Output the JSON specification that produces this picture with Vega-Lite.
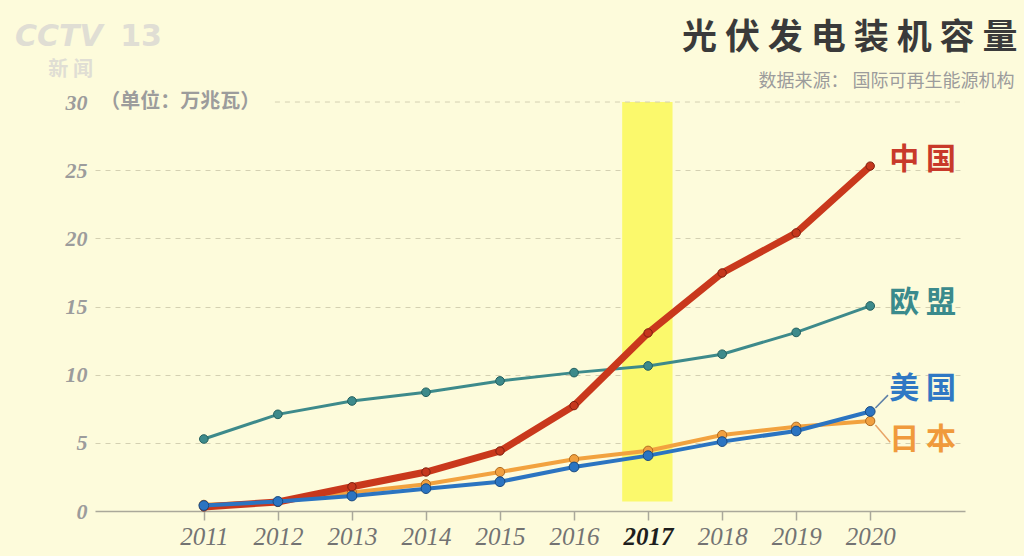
{
  "$schema": "https://vega.github.io/schema/vega-lite/v6.json",
  "width": 870,
  "height": 409,
  "autosize": "none",
  "padding": {"left": 95, "top": 102, "right": 59, "bottom": 45},
  "background": "#fdfbdb",
  "config": {"view": {"stroke": null}},
  "datasets": {
    "cap": [
      {"year": 2011, "series": "中国", "value": 0.3},
      {"year": 2012, "series": "中国", "value": 0.66},
      {"year": 2013, "series": "中国", "value": 1.78},
      {"year": 2014, "series": "中国", "value": 2.86},
      {"year": 2015, "series": "中国", "value": 4.4},
      {"year": 2016, "series": "中国", "value": 7.73},
      {"year": 2017, "series": "中国", "value": 13.06},
      {"year": 2018, "series": "中国", "value": 17.46},
      {"year": 2019, "series": "中国", "value": 20.4},
      {"year": 2020, "series": "中国", "value": 25.3},
      {"year": 2011, "series": "欧盟", "value": 5.28},
      {"year": 2012, "series": "欧盟", "value": 7.09},
      {"year": 2013, "series": "欧盟", "value": 8.07},
      {"year": 2014, "series": "欧盟", "value": 8.71},
      {"year": 2015, "series": "欧盟", "value": 9.54},
      {"year": 2016, "series": "欧盟", "value": 10.15},
      {"year": 2017, "series": "欧盟", "value": 10.64},
      {"year": 2018, "series": "欧盟", "value": 11.5},
      {"year": 2019, "series": "欧盟", "value": 13.1},
      {"year": 2020, "series": "欧盟", "value": 15.04},
      {"year": 2011, "series": "日本", "value": 0.45},
      {"year": 2012, "series": "日本", "value": 0.66},
      {"year": 2013, "series": "日本", "value": 1.35},
      {"year": 2014, "series": "日本", "value": 1.96},
      {"year": 2015, "series": "日本", "value": 2.86},
      {"year": 2016, "series": "日本", "value": 3.8},
      {"year": 2017, "series": "日本", "value": 4.42},
      {"year": 2018, "series": "日本", "value": 5.57},
      {"year": 2019, "series": "日本", "value": 6.18},
      {"year": 2020, "series": "日本", "value": 6.6},
      {"year": 2011, "series": "美国", "value": 0.4},
      {"year": 2012, "series": "美国", "value": 0.7},
      {"year": 2013, "series": "美国", "value": 1.1},
      {"year": 2014, "series": "美国", "value": 1.64},
      {"year": 2015, "series": "美国", "value": 2.15},
      {"year": 2016, "series": "美国", "value": 3.23},
      {"year": 2017, "series": "美国", "value": 4.06},
      {"year": 2018, "series": "美国", "value": 5.09},
      {"year": 2019, "series": "美国", "value": 5.87},
      {"year": 2020, "series": "美国", "value": 7.3}
    ]
  },
  "layer": [
    {
      "data": {"values": [{}]},
      "mark": {"type": "rect", "color": "#fbf96c"},
      "encoding": {
        "x": {"datum": 2016.65, "type": "quantitative"},
        "x2": {"datum": 2017.33},
        "y": {"datum": 0.7, "type": "quantitative"},
        "y2": {"datum": 30}
      }
    },
    {
      "data": {"values": [{}]},
      "mark": {"type": "rule", "color": "#d4d0b2", "strokeDash": [5, 5], "strokeWidth": 1},
      "encoding": {
        "x": {"datum": 2011.96, "type": "quantitative"},
        "x2": {"datum": 2021.28},
        "y": {"datum": 30, "type": "quantitative"}
      }
    },
    {
      "data": {"name": "cap"},
      "transform": [{"filter": "datum.series == '欧盟'"}],
      "mark": {
        "type": "line",
        "color": "#3d8a8b",
        "strokeWidth": 3,
        "point": {"filled": true, "size": 75, "fill": "#3d8a8b", "stroke": "#24605f", "strokeWidth": 1}
      },
      "encoding": {
        "x": {
          "field": "year",
          "type": "quantitative",
          "title": null,
          "scale": {"domain": [2009.53, 2021.28], "nice": false, "zero": false},
          "axis": {
            "values": [2011, 2012, 2013, 2014, 2015, 2016, 2017, 2018, 2019, 2020],
            "format": "d",
            "grid": false,
            "domainColor": "#aaa89a",
            "domainWidth": 1.5,
            "tickColor": "#aaa89a",
            "tickWidth": 1.5,
            "tickSize": 9,
            "labelFont": "Liberation Serif",
            "labelFontStyle": "italic",
            "labelFontSize": 25,
            "labelPadding": 4,
            "labelColor": {"condition": {"test": "datum.value == 2017", "value": "#1e1e1e"}, "value": "#737373"},
            "labelFontWeight": {"condition": {"test": "datum.value == 2017", "value": "bold"}, "value": "normal"}
          }
        },
        "y": {
          "field": "value",
          "type": "quantitative",
          "title": null,
          "scale": {"domain": [0, 30], "nice": false},
          "axis": {
            "values": [0, 5, 10, 15, 20, 25, 30],
            "domain": false,
            "ticks": false,
            "grid": true,
            "gridColor": "#d4d0b2",
            "gridDash": [5, 5],
            "gridOpacity": {"condition": {"test": "datum.value == 0 || datum.value == 30", "value": 0}, "value": 1},
            "labelFont": "Liberation Serif",
            "labelFontStyle": "italic",
            "labelFontWeight": "bold",
            "labelFontSize": 22,
            "labelColor": "#9c9c9c",
            "labelPadding": 8
          }
        }
      }
    },
    {
      "data": {"name": "cap"},
      "transform": [{"filter": "datum.series == '日本'"}],
      "mark": {
        "type": "line",
        "color": "#f2a23f",
        "strokeWidth": 4,
        "point": {"filled": true, "size": 85, "fill": "#f0a040", "stroke": "#b06a1e", "strokeWidth": 1}
      },
      "encoding": {
        "x": {"field": "year", "type": "quantitative"},
        "y": {"field": "value", "type": "quantitative"}
      }
    },
    {
      "data": {"name": "cap"},
      "transform": [{"filter": "datum.series == '中国'"}],
      "mark": {
        "type": "line",
        "color": "#c9381c",
        "strokeWidth": 7,
        "point": {"filled": true, "size": 70, "fill": "#c5371d", "stroke": "#7e2010", "strokeWidth": 1}
      },
      "encoding": {
        "x": {"field": "year", "type": "quantitative"},
        "y": {"field": "value", "type": "quantitative"}
      }
    },
    {
      "data": {"name": "cap"},
      "transform": [{"filter": "datum.series == '美国'"}],
      "mark": {
        "type": "line",
        "color": "#2b74c1",
        "strokeWidth": 4,
        "point": {"filled": true, "size": 95, "fill": "#2b74c1", "stroke": "#1a4a80", "strokeWidth": 1}
      },
      "encoding": {
        "x": {"field": "year", "type": "quantitative"},
        "y": {"field": "value", "type": "quantitative"}
      }
    },
    {
      "data": {"values": [{}]},
      "mark": {"type": "rule", "color": "#5d7fa6", "strokeWidth": 1.5},
      "encoding": {
        "x": {"datum": 2020.07, "type": "quantitative"},
        "x2": {"datum": 2020.24},
        "y": {"datum": 7.55, "type": "quantitative"},
        "y2": {"datum": 8.5}
      }
    },
    {
      "data": {"values": [{}]},
      "mark": {"type": "rule", "color": "#e8a466", "strokeWidth": 1.5},
      "encoding": {
        "x": {"datum": 2020.07, "type": "quantitative"},
        "x2": {"datum": 2020.27},
        "y": {"datum": 6.3, "type": "quantitative"},
        "y2": {"datum": 5.05}
      }
    },
    {
      "data": {"name": "cap"},
      "transform": [{"filter": "datum.year == 2020 && datum.series == '中国'"}],
      "mark": {"type": "text", "align": "left", "baseline": "middle", "dx": 19, "dy": -6, "font": "Noto Sans CJK SC", "fontWeight": "bold", "fontSize": 30, "color": "#c8392a"},
      "encoding": {
        "x": {"field": "year", "type": "quantitative"},
        "y": {"field": "value", "type": "quantitative"},
        "text": {"value": "中 国"}
      }
    },
    {
      "data": {"name": "cap"},
      "transform": [{"filter": "datum.year == 2020 && datum.series == '欧盟'"}],
      "mark": {"type": "text", "align": "left", "baseline": "middle", "dx": 19, "dy": -3, "font": "Noto Sans CJK SC", "fontWeight": "bold", "fontSize": 30, "color": "#3a8a8c"},
      "encoding": {
        "x": {"field": "year", "type": "quantitative"},
        "y": {"field": "value", "type": "quantitative"},
        "text": {"value": "欧 盟"}
      }
    },
    {
      "data": {"name": "cap"},
      "transform": [{"filter": "datum.year == 2020 && datum.series == '美国'"}],
      "mark": {"type": "text", "align": "left", "baseline": "middle", "dx": 19, "dy": -22, "font": "Noto Sans CJK SC", "fontWeight": "bold", "fontSize": 30, "color": "#2f78c4"},
      "encoding": {
        "x": {"field": "year", "type": "quantitative"},
        "y": {"field": "value", "type": "quantitative"},
        "text": {"value": "美 国"}
      }
    },
    {
      "data": {"name": "cap"},
      "transform": [{"filter": "datum.year == 2020 && datum.series == '日本'"}],
      "mark": {"type": "text", "align": "left", "baseline": "middle", "dx": 19, "dy": 19, "font": "Noto Sans CJK SC", "fontWeight": "bold", "fontSize": 30, "color": "#f09a3c"},
      "encoding": {
        "x": {"field": "year", "type": "quantitative"},
        "y": {"field": "value", "type": "quantitative"},
        "text": {"value": "日 本"}
      }
    },
    {
      "data": {"values": [{}]},
      "mark": {"type": "text", "align": "left", "baseline": "middle", "font": "Noto Sans CJK SC", "fontWeight": "bold", "fontSize": 20, "color": "#9c9c9c"},
      "encoding": {
        "x": {"datum": 2009.6, "type": "quantitative"},
        "y": {"datum": 30, "type": "quantitative"},
        "text": {"value": "（单位：万兆瓦）"}
      }
    },
    {
      "data": {"values": [{}]},
      "mark": {"type": "text", "align": "right", "baseline": "middle", "font": "Noto Sans CJK SC", "fontWeight": "bold", "fontSize": 35, "color": "#3a3a3a"},
      "encoding": {
        "x": {"datum": 2021.99, "type": "quantitative"},
        "y": {"datum": 34.7, "type": "quantitative"},
        "text": {"value": "光 伏 发 电 装 机 容 量"}
      }
    },
    {
      "data": {"values": [{}]},
      "mark": {"type": "text", "align": "right", "baseline": "middle", "font": "Noto Sans CJK SC", "fontSize": 18, "color": "#9c9c9c"},
      "encoding": {
        "x": {"datum": 2021.95, "type": "quantitative"},
        "y": {"datum": 31.47, "type": "quantitative"},
        "text": {"value": "数据来源： 国际可再生能源机构"}
      }
    },
    {
      "data": {"values": [{}]},
      "mark": {"type": "text", "align": "left", "baseline": "middle", "font": "DejaVu Sans", "fontWeight": "bold", "fontStyle": "italic", "fontSize": 30, "color": "#e0ded4"},
      "encoding": {
        "x": {"datum": 2008.45, "type": "quantitative"},
        "y": {"datum": 34.77, "type": "quantitative"},
        "text": {"value": "CCTV"}
      }
    },
    {
      "data": {"values": [{}]},
      "mark": {"type": "text", "align": "left", "baseline": "middle", "font": "DejaVu Sans", "fontWeight": "bold", "fontSize": 30, "color": "#e0ded4"},
      "encoding": {
        "x": {"datum": 2009.87, "type": "quantitative"},
        "y": {"datum": 34.77, "type": "quantitative"},
        "text": {"value": "13"}
      }
    },
    {
      "data": {"values": [{}]},
      "mark": {"type": "text", "align": "left", "baseline": "middle", "font": "Noto Sans CJK SC", "fontWeight": "bold", "fontSize": 20, "color": "#e0ded4"},
      "encoding": {
        "x": {"datum": 2008.9, "type": "quantitative"},
        "y": {"datum": 32.35, "type": "quantitative"},
        "text": {"value": "新  闻"}
      }
    }
  ]
}
